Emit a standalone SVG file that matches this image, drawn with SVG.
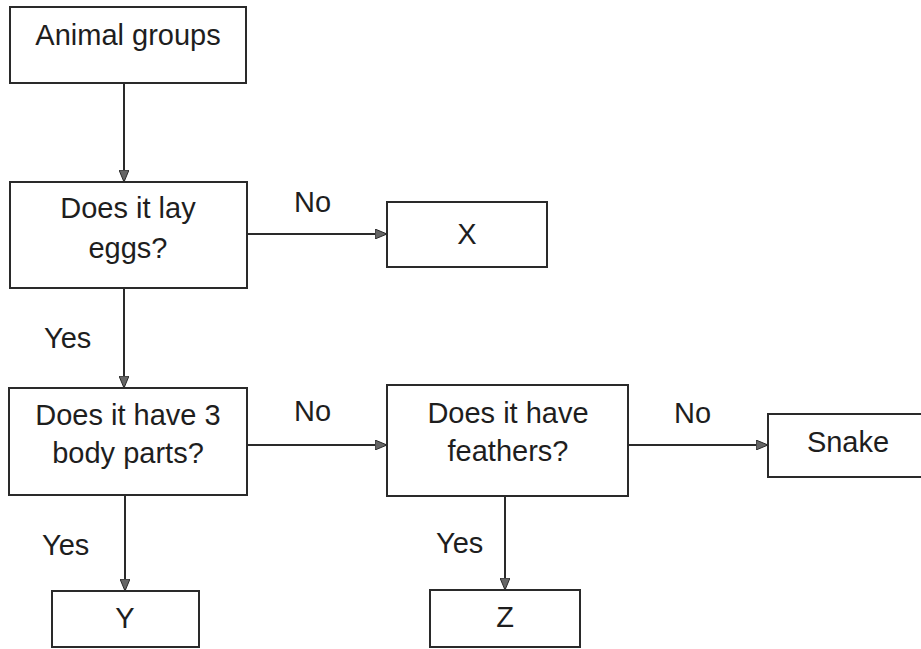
<svg xmlns="http://www.w3.org/2000/svg" width="921" height="649" viewBox="0 0 921 649">
<style>
.box{fill:#fff;stroke:#2a2a2a;stroke-width:2}
.t{font-family:"Liberation Sans",Arial,sans-serif;font-size:29px;fill:#1e1e1e;text-anchor:middle}
.l{font-family:"Liberation Sans",Arial,sans-serif;font-size:29px;fill:#1e1e1e}
.c{stroke:#2a2a2a;stroke-width:2;fill:none;marker-end:url(#ah)}
</style>
<defs>
<marker id="ah" viewBox="0 0 12 10" refX="12" refY="5" markerWidth="12" markerHeight="10" markerUnits="userSpaceOnUse" orient="auto">
<path d="M0,0 L12,5 L0,10 Z" fill="#666" stroke="#2a2a2a" stroke-width="1"/>
</marker>
</defs>
<rect width="921" height="649" fill="#fff"/>
<g id="connectors">
<line class="c" x1="124" y1="83" x2="124" y2="182"/>
<line class="c" x1="247" y1="234" x2="387" y2="234"/>
<line class="c" x1="124" y1="288" x2="124" y2="388"/>
<line class="c" x1="247" y1="445" x2="387" y2="445"/>
<line class="c" x1="628" y1="445" x2="768" y2="445"/>
<line class="c" x1="125" y1="495" x2="125" y2="591"/>
<line class="c" x1="505" y1="496" x2="505" y2="590"/>
<text class="l" x="294" y="212">No</text>
<text class="l" x="44" y="348">Yes</text>
<text class="l" x="294" y="421">No</text>
<text class="l" x="674" y="423">No</text>
<text class="l" x="42" y="555">Yes</text>
<text class="l" x="436" y="553">Yes</text>
</g>
<g id="animal-groups">
<rect class="box" x="10" y="7" width="236" height="76"/>
<text class="t" x="128" y="45">Animal groups</text>
</g>
<g id="lay-eggs">
<rect class="box" x="10" y="182" width="237" height="106"/>
<text class="t" x="128" y="218">Does it lay</text>
<text class="t" x="128" y="258">eggs?</text>
</g>
<g id="x">
<rect class="box" x="387" y="202" width="160" height="65"/>
<text class="t" x="467" y="244">X</text>
</g>
<g id="body-parts">
<rect class="box" x="9" y="388" width="238" height="107"/>
<text class="t" x="128" y="425">Does it have 3</text>
<text class="t" x="128" y="463">body parts?</text>
</g>
<g id="feathers">
<rect class="box" x="387" y="385" width="241" height="111"/>
<text class="t" x="508" y="423">Does it have</text>
<text class="t" x="508" y="461">feathers?</text>
</g>
<g id="snake">
<rect class="box" x="768" y="414" width="160" height="63"/>
<text class="t" x="848" y="452">Snake</text>
</g>
<g id="y">
<rect class="box" x="52" y="591" width="147" height="56"/>
<text class="t" x="125" y="628">Y</text>
</g>
<g id="z">
<rect class="box" x="430" y="590" width="150" height="57"/>
<text class="t" x="505" y="627">Z</text>
</g>
</svg>
